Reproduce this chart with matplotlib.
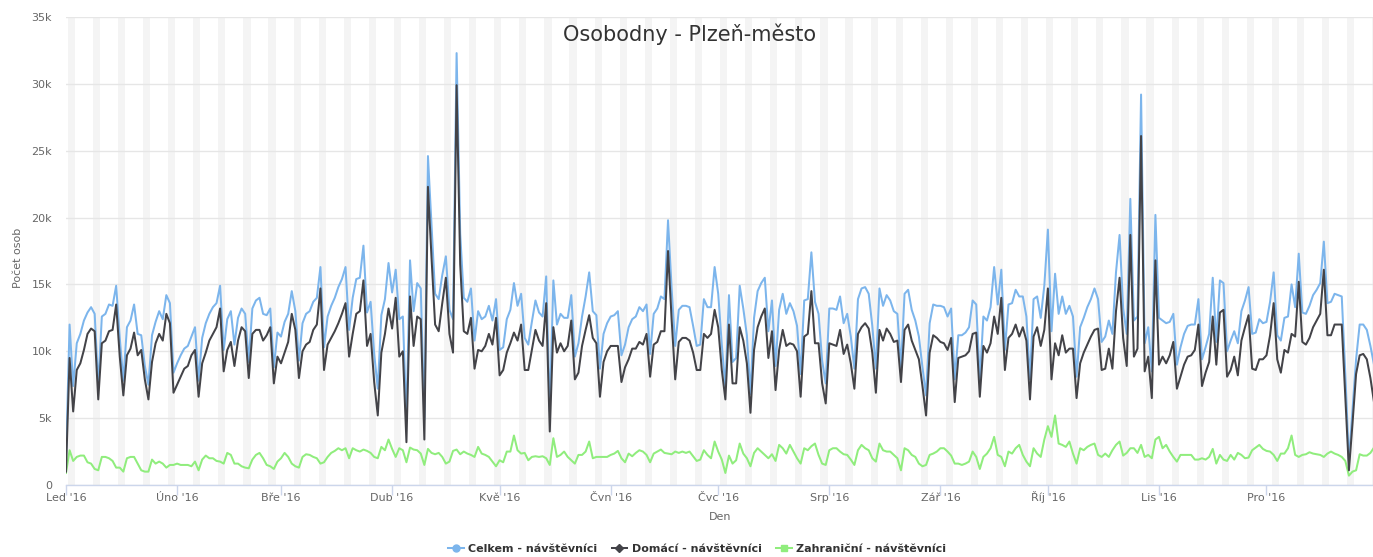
import numpy as np
import matplotlib
matplotlib.use("Agg")
import matplotlib.pyplot as plt
from matplotlib.lines import Line2D

# ---------------- data (values in thousands of persons, daily, 2016) ----------------
title = "Osobodny - Plzeň-město"
series_names = ["Celkem - návštěvníci", "Domácí - návštěvníci", "Zahraniční - návštěvníci"]
month_labels = ["Led '16", "Úno '16", "Bře '16", "Dub '16", "Kvě '16", "Čvn '16",
                "Čvc '16", "Srp '16", "Zář '16", "Říj '16", "Lis '16", "Pro '16"]
y_tick_labels = ["0", "5k", "10k", "15k", "20k", "25k", "30k", "35k"]

domaci_k = [
    1.0, 9.5, 5.5, 8.6, 9.1, 10.1, 11.3, 11.7, 11.5, 6.4,
    10.6, 10.8, 11.5, 11.6, 13.5, 9.6, 6.7, 9.7, 10.2, 11.4,
    9.7, 10.1, 7.9, 6.4, 9.2, 10.6, 11.3, 10.8, 12.8, 12.1,
    6.9, 7.5, 8.1, 8.7, 8.9, 9.7, 10.1, 6.6, 9.1, 9.9,
    10.8, 11.3, 11.8, 13.2, 8.5, 10.1, 10.7, 8.9, 10.8, 11.8,
    11.5, 8.0, 11.3, 11.6, 11.6, 10.8, 11.2, 11.8, 7.6, 9.6,
    9.1, 9.9, 10.7, 12.8, 11.6, 8.0, 10.0, 10.5, 10.7, 11.6,
    12.0, 14.7, 8.6, 10.5, 11.0, 11.5, 12.1, 12.8, 13.6, 9.6,
    11.3, 12.8, 13.0, 15.3, 10.4, 11.3, 7.7, 5.2, 9.9, 11.3,
    13.2, 11.7, 14.0, 9.6, 10.0, 3.2, 14.1, 10.4, 12.6, 12.4,
    3.4, 22.3, 17.0, 12.0, 11.5, 13.6, 15.5, 11.3, 9.9, 29.9,
    16.5, 11.5, 11.3, 12.5, 8.7, 10.1, 10.0, 10.4, 11.3, 10.5,
    12.5, 8.2, 8.6, 9.9, 10.6, 11.4, 10.8, 12.0, 8.6, 8.6,
    10.1, 11.6, 10.8, 10.4, 13.6, 4.0, 11.8, 9.9, 10.6, 10.0,
    10.4, 12.3, 7.9, 8.4, 10.4, 11.6, 12.7, 11.0, 10.6, 6.6,
    9.2, 10.0, 10.4, 10.4, 10.4, 7.7, 8.8, 9.4, 10.2, 10.2,
    10.7, 10.5, 11.3, 8.1, 10.5, 10.7, 11.5, 11.5, 17.5, 12.4,
    7.9, 10.7, 11.0, 11.0, 10.8, 9.9, 8.6, 8.6, 11.3, 11.0,
    11.3, 13.1, 11.8, 8.6, 6.4, 12.0, 7.6, 7.6, 11.8, 10.8,
    9.1, 5.4, 10.1, 11.8, 12.6, 13.2, 9.5, 11.5, 7.1, 10.1,
    11.6, 10.4, 10.6, 10.5, 10.0, 6.6, 11.1, 11.3, 14.5, 10.6,
    10.6, 7.6, 6.1, 10.6, 10.5, 10.4, 11.6, 9.8, 10.5, 9.1,
    7.2, 11.3, 11.8, 12.1, 11.7, 9.9, 6.9, 11.6, 10.8, 11.7,
    11.3, 10.7, 10.8, 7.7, 11.6, 12.0, 10.8, 10.1, 9.4, 7.4,
    5.2, 9.9, 11.2, 11.0, 10.7, 10.6, 10.1, 11.0, 6.2, 9.5,
    9.6, 9.7, 10.0, 11.3, 11.4, 6.6, 10.4, 9.9, 10.6, 12.6,
    11.3, 14.0, 8.6, 11.0, 11.3, 12.0, 11.1, 11.8, 10.8, 6.4,
    11.1, 11.8, 10.4, 11.6, 14.7, 7.9, 10.6, 9.7, 11.2, 9.9,
    10.2, 10.2, 6.5, 9.1, 9.9, 10.5, 11.1, 11.6, 11.7, 8.6,
    8.7, 10.2, 8.7, 13.0, 15.5, 11.0, 8.9, 18.7, 9.6, 10.2,
    26.1, 8.5, 9.6, 6.5, 16.8, 9.0, 9.6, 9.1, 9.7, 10.7,
    7.2, 8.1, 9.0, 9.6, 9.7, 10.1, 12.0, 7.4, 8.4, 9.2,
    12.6, 9.0, 12.9, 13.1, 8.1, 8.6, 9.6, 8.2, 10.8, 11.8,
    12.7, 8.7, 8.6, 9.4, 9.4, 9.7, 11.2, 13.6, 9.4, 8.4,
    10.1, 9.9, 11.3, 11.1, 15.2, 10.7, 10.5, 11.0, 11.8, 12.3,
    12.8, 16.1, 11.2, 11.2, 12.0, 12.0, 12.0, 6.5, 1.1, 4.6,
    8.3, 9.7, 9.8, 9.4, 8.0, 6.2,
]

celkem_k = [
    1.9, 12.0, 7.4, 10.6, 11.3, 12.3, 12.9, 13.3, 12.8, 7.4,
    12.6, 12.8, 13.5, 13.4, 14.9, 11.0, 7.8, 11.8, 12.3, 13.5,
    11.3, 11.2, 8.9, 7.5, 11.2, 12.2, 13.0, 12.4, 14.2, 13.6,
    8.4, 9.1, 9.7, 10.2, 10.4, 11.1, 11.8, 7.8, 11.0, 12.1,
    12.8, 13.3, 13.6, 14.9, 10.1, 12.4, 13.0, 10.5, 12.5, 13.2,
    12.8, 9.2, 13.2, 13.8, 14.0, 12.8, 12.7, 13.2, 8.8, 11.4,
    11.1, 12.2, 12.8, 14.5, 13.0, 9.3, 12.1, 12.8, 13.0, 13.7,
    14.0, 16.3, 10.3, 12.6, 13.4, 14.0, 14.8, 15.4, 16.3, 11.6,
    14.0, 15.4, 15.5, 17.9, 12.9, 13.7, 9.8, 7.2, 12.7, 13.9,
    16.6, 14.4, 16.1, 12.4, 12.6, 4.9, 16.8, 13.0, 15.1, 14.7,
    4.9, 24.6, 19.4, 14.3, 13.9, 15.7, 17.1, 13.1, 12.4, 32.3,
    18.8, 14.0, 13.7, 14.7, 10.8, 13.0, 12.4, 12.6, 13.4, 12.3,
    13.9, 10.1, 10.3, 12.4, 13.1, 15.1, 13.4, 14.3, 11.0, 10.5,
    12.2, 13.8, 12.9, 12.6, 15.6, 5.5, 15.3, 12.0, 12.8, 12.5,
    12.5, 14.2, 9.6, 10.6, 12.6, 14.1, 15.9, 13.0, 12.7, 8.7,
    11.3, 12.1, 12.6, 12.7, 13.0, 9.7, 10.5, 11.8, 12.4, 12.6,
    13.3, 13.0, 13.5, 9.8, 12.8, 13.2, 14.1, 13.9, 19.8, 14.7,
    10.4, 13.1, 13.4, 13.4, 13.3, 11.9, 10.4, 10.5, 13.9, 13.3,
    13.3, 16.3, 14.3, 10.5, 7.3, 14.2, 9.2, 9.5, 14.9, 13.2,
    11.2, 6.8, 12.5, 14.5, 15.1, 15.5, 11.5, 13.8, 8.9, 13.1,
    14.3, 12.8, 13.6, 13.0, 11.9, 8.3, 13.8, 13.9, 17.4, 13.7,
    12.8, 9.3, 7.6, 13.2, 13.2, 13.1, 14.1, 12.1, 12.8, 11.1,
    8.7, 13.9, 14.7, 14.8, 14.3, 11.9, 8.7, 14.7, 13.4, 14.2,
    13.8, 13.0, 12.8, 8.8, 14.3, 14.6, 13.1, 12.3, 11.1, 8.8,
    6.7, 12.1, 13.5, 13.4, 13.4, 13.3, 12.6, 13.2, 7.9, 11.2,
    11.2, 11.4, 11.8, 13.8, 13.5, 7.8, 12.6, 12.3, 13.3, 16.3,
    13.5, 16.1, 10.1, 13.5, 13.6, 14.6, 14.1, 14.1, 12.6, 7.9,
    13.9, 14.1, 12.5, 14.9, 19.1, 11.5, 15.8, 12.8, 14.1, 12.8,
    13.4, 12.6, 8.1, 11.8, 12.5, 13.3, 13.9, 14.7, 13.9, 10.7,
    11.1, 12.3, 11.3, 15.9, 18.7, 13.2, 11.3, 21.4, 12.3, 12.6,
    29.2, 10.6, 11.8, 8.5, 20.2, 12.5, 12.3, 12.1, 12.2, 12.8,
    9.0, 10.3, 11.3, 11.9, 12.0, 12.0, 13.9, 9.4, 10.3, 11.3,
    15.5, 10.7, 15.3, 15.1, 10.0, 10.8, 11.5, 10.6, 13.0, 13.8,
    14.8, 11.3, 11.4, 12.4, 12.1, 12.2, 13.7, 15.9, 11.2, 10.8,
    12.5, 12.6, 15.0, 13.3, 17.3, 12.9, 12.8, 13.4, 14.2, 14.6,
    15.1, 18.2, 13.6, 13.7, 14.3, 14.2, 14.1, 8.3, 1.8, 5.6,
    9.4, 12.0, 12.0, 11.6, 10.4, 9.0,
]

zahranicni_k = [
    0.9, 2.6, 1.8, 2.1, 2.2, 2.2, 1.7, 1.6, 1.2, 1.1,
    2.1, 2.1, 2.0, 1.8, 1.3, 1.3, 1.0, 2.0, 2.1, 2.1,
    1.6, 1.1, 1.0, 1.0, 1.9, 1.6, 1.75, 1.6, 1.3, 1.5,
    1.5, 1.6, 1.5, 1.5, 1.5, 1.4, 1.75, 1.1, 1.9, 2.2,
    2.0, 2.0, 1.8, 1.75, 1.6, 2.4, 2.25, 1.6, 1.6, 1.4,
    1.3, 1.25, 1.9, 2.25, 2.4, 2.0, 1.5, 1.4, 1.2, 1.75,
    2.0, 2.4, 2.1, 1.6, 1.4, 1.3, 2.1, 2.3, 2.25, 2.1,
    2.0, 1.6, 1.7, 2.1, 2.4, 2.55, 2.75, 2.6, 2.75, 2.0,
    2.75, 2.6, 2.5, 2.65, 2.55, 2.4, 2.1, 2.0, 2.85, 2.6,
    3.4, 2.7, 2.1, 2.75, 2.6, 1.7, 2.8, 2.65, 2.6, 2.35,
    1.5, 2.7, 2.4, 2.3, 2.4, 2.1, 1.6, 1.75, 2.55, 2.65,
    2.3, 2.5, 2.35, 2.25, 2.1, 2.85, 2.35, 2.25, 2.1, 1.75,
    1.4, 1.85, 1.7, 2.5, 2.5, 3.7, 2.6, 2.35, 2.4, 1.85,
    2.1, 2.15, 2.1, 2.15, 2.0, 1.5, 3.5, 2.1, 2.25, 2.5,
    2.1, 1.85, 1.6, 2.25, 2.25, 2.5, 3.25, 2.0, 2.1, 2.1,
    2.1, 2.1, 2.25, 2.35, 2.55, 2.0, 1.7, 2.35, 2.15, 2.4,
    2.6, 2.5, 2.25, 1.7, 2.35, 2.5, 2.65, 2.4, 2.35, 2.3,
    2.5, 2.4, 2.5, 2.4, 2.5, 2.15, 1.8, 1.9, 2.6, 2.25,
    2.0, 3.25, 2.5, 1.9, 0.9, 2.2, 1.6, 1.85, 3.1, 2.35,
    2.0, 1.4, 2.4, 2.75, 2.5, 2.25, 2.0, 2.3, 1.8, 3.0,
    2.75, 2.35, 3.0, 2.5, 2.0, 1.6, 2.75, 2.6, 2.9, 3.1,
    2.25, 1.6, 1.5, 2.6, 2.75, 2.75, 2.5, 2.3, 2.25, 1.9,
    1.5, 2.6, 3.0, 2.75, 2.6, 2.0, 1.75, 3.1, 2.6, 2.5,
    2.5, 2.25, 2.0, 1.1, 2.75, 2.6, 2.25, 2.1, 1.6, 1.4,
    1.5, 2.25, 2.35, 2.5, 2.75, 2.75, 2.5, 2.2, 1.6, 1.6,
    1.5, 1.6, 1.75, 2.5, 2.1, 1.2, 2.1, 2.35, 2.75, 3.6,
    2.25, 2.1, 1.4, 2.5, 2.35, 2.75, 3.0, 2.25, 1.75, 1.4,
    2.75, 2.35, 2.1, 3.4, 4.4, 3.6, 5.2, 3.1, 3.0, 2.85,
    3.25, 2.35, 1.6, 2.75, 2.6, 2.85, 3.0, 3.1, 2.25, 2.1,
    2.35, 2.1, 2.6, 3.0, 3.25, 2.2, 2.4, 2.75, 2.75, 2.4,
    3.0, 2.1, 2.25, 2.0, 3.4, 3.6, 2.75, 3.0, 2.5, 2.1,
    1.75, 2.25, 2.25, 2.25, 2.25, 1.9, 1.9, 2.0, 1.9, 2.1,
    2.7, 1.6, 2.25, 1.9, 1.8, 2.25, 1.9, 2.4, 2.25, 2.0,
    2.05, 2.6, 2.8, 3.0, 2.7, 2.55, 2.5, 2.25, 1.8, 2.35,
    2.35, 2.75, 3.7, 2.25, 2.1, 2.25, 2.3, 2.45, 2.35, 2.3,
    2.25, 2.1, 2.35, 2.5, 2.35, 2.25, 2.1, 1.8, 0.7, 1.0,
    1.1, 2.3, 2.2, 2.2, 2.4, 2.8,
]

# ---------------- calendar ----------------
days = np.arange(np.datetime64("2016-01-01"), np.datetime64("2017-01-01"), dtype="datetime64[D]")
x = np.arange(len(days))
month_starts = (np.arange(np.datetime64("2016-01"), np.datetime64("2017-01"), dtype="datetime64[M]")
                .astype("datetime64[D]") - days[0]).astype(int)
weekday = (days.view("int64") - 4) % 7  # 0 = Monday
saturdays = x[weekday == 5]

celkem = np.array(celkem_k) * 1000
domaci = np.array(domaci_k) * 1000
zahranicni = np.array(zahranicni_k) * 1000

colors = ["#7cb5ec", "#434348", "#90ed7d"]
markers = ["o", "D", "s"]

W, H = 1373, 557
fig = plt.figure(figsize=(W / 100, H / 100), dpi=100)
fig.patch.set_facecolor("white")
left, right, top, bottom = 66, 1374, 17, 485
ax = fig.add_axes([left / W, 1 - bottom / H, (right - left) / W, (bottom - top) / H])

ax.set_xlim(x[0], x[-1])
ax.set_ylim(0, 35000)

for s in saturdays:
    ax.axvspan(s - 0.5, s + 1.5, color="#f4f4f4", lw=0, zorder=0)

ax.set_axisbelow(True)
ax.yaxis.grid(True, color="#e6e6e6", lw=1.0, zorder=0.5)
ax.xaxis.grid(False)

lw = 1.45
ax.plot(x, celkem, color=colors[0], lw=lw, zorder=3, solid_joinstyle="round")
ax.plot(x, domaci, color=colors[1], lw=lw, zorder=4, solid_joinstyle="round")
ax.plot(x, zahranicni, color=colors[2], lw=lw, zorder=3, solid_joinstyle="round")

for sp in ["top", "right", "left"]:
    ax.spines[sp].set_visible(False)
ax.spines["bottom"].set_color("#ccd6eb")
ax.spines["bottom"].set_linewidth(1.0)

ax.set_yticks(np.arange(0, 35001, 5000))
ax.set_yticklabels(y_tick_labels)
ax.tick_params(axis="y", length=0, pad=10, labelsize=8, labelcolor="#666666")
ax.set_xticks(month_starts)
ax.set_xticklabels(month_labels)
ax.tick_params(axis="x", length=7, width=1, color="#ccd6eb", pad=4.3, labelsize=8, labelcolor="#666666")
for lbl in ax.get_xticklabels():
    lbl.set_verticalalignment("baseline")

fig.text(720 / W, 1 - 517 / H, "Den", ha="center", va="center", fontsize=8, color="#666666")
fig.text(18 / W, 1 - 258 / H, "Počet osob", ha="center", va="center", rotation=90, fontsize=8, color="#666666")
fig.text(690 / W, 1 - 34 / H, title, ha="center", va="center", fontsize=15, color="#333333")

handles = [Line2D([0], [0], color=c, lw=1.45, marker=m, markersize=5 if m != "D" else 4.5)
           for c, m in zip(colors, markers)]
leg = fig.legend(handles, series_names, loc="center", bbox_to_anchor=(697 / W, 1 - 549 / H), ncol=3,
                 frameon=False, handlelength=1.4, handletextpad=0.4, columnspacing=1.3,
                 prop={"size": 8, "weight": "bold"})
for t in leg.get_texts():
    t.set_color("#333333")

fig.savefig("out.png", dpi=100, facecolor="white")
